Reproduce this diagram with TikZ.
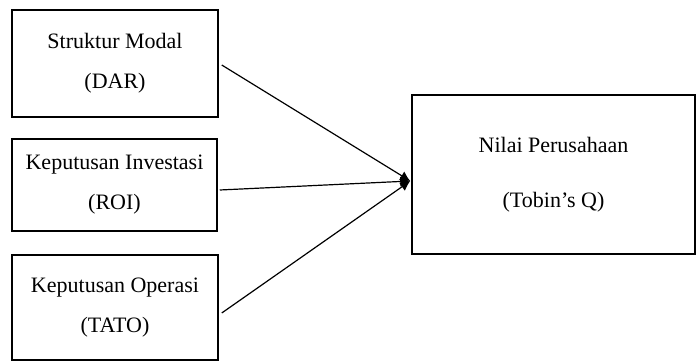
\documentclass[tikz,border=0pt]{standalone}
\usepackage{fontspec}
\setmainfont{Liberation Serif}
\usetikzlibrary{arrows.meta}
\usetikzlibrary{positioning}
\tikzset{>={Latex[length=10pt,width=10pt]}}
\tikzset{
    varbox/.style={draw,line width=1.5pt,align=center,inner sep=0pt,
        font=\fontsize{22}{40}\selectfont}
}

\begin{document}
\begin{tikzpicture}[x=1pt,y=-1pt]
	\useasboundingbox (0,0) rectangle (696,361);
	\node[varbox,minimum width=206pt,minimum height=107pt] (dar) at (115,63.5) {Struktur Modal\\(DAR)};
	\node[varbox,minimum width=205pt,minimum height=92pt] (roi) at (114.5,185) {Keputusan Investasi\\(ROI)};
	\node[varbox,minimum width=206pt,minimum height=105pt] (tato) at (115,307.5) {Keputusan Operasi\\(TATO)};
	\node[varbox,minimum width=283pt,minimum height=159pt,font=\fontsize{22}{55}\selectfont] (nilai) at (553.5,174.5) {Nilai Perusahaan\\(Tobin's Q)};
	\coordinate (tip) at ([yshift=-6.5pt,xshift=-1pt]nilai.west);
	\draw[line width=1.2pt,->] ([xshift=3pt,yshift=-1.5pt]dar.east) -- (tip);
	\draw[line width=1.2pt,->] ([xshift=2pt,yshift=-5pt]roi.east) -- (tip);
	\draw[line width=1.2pt,->] ([xshift=3pt,yshift=-5.5pt]tato.east) -- (tip);
	\end{tikzpicture}
\end{document}
